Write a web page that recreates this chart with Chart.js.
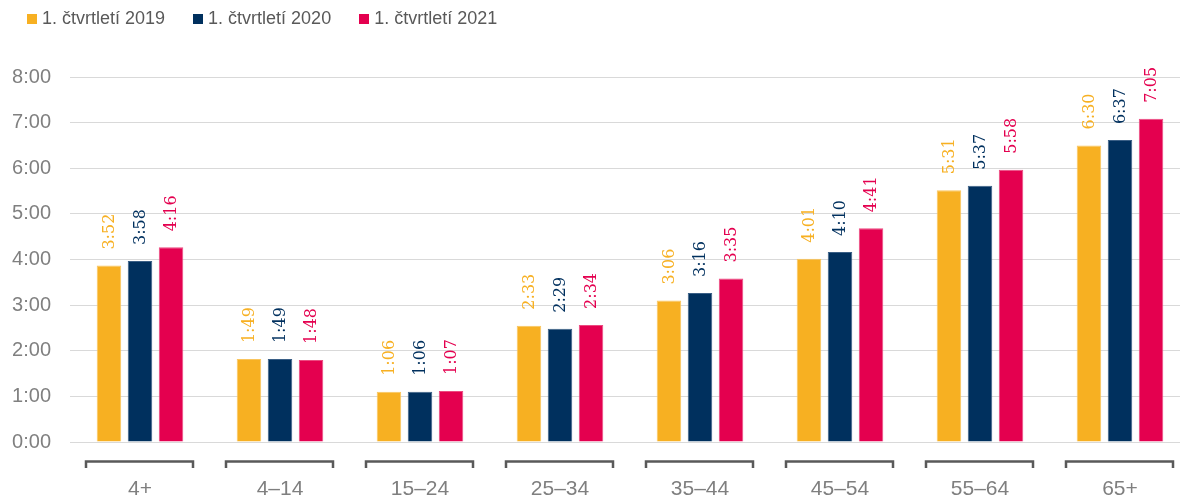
<!DOCTYPE html>
<html>
<head>
<meta charset="utf-8">
<script src="https://cdn.jsdelivr.net/npm/chart.js@4.4.1/dist/chart.umd.min.js"></script>
<style>
	html, body { margin: 0; padding: 0; overflow: hidden; background: #fff; }
	#wrap { position: relative; width: 1190px; height: 498px; }
	#legenda {
		position: absolute; left: 27px; top: 8px;
		display: flex; gap: 28px;
		font-family: "Liberation Sans", Arial, sans-serif; font-size: 18px; color: #595959;
	}
	#legenda .item { display: flex; align-items: center; }
	#legenda .box { width: 10px; height: 10px; margin-right: 5px; }
</style>
</head>
<body>
<div id="wrap">
	<canvas id="graficoSledovanost"></canvas>
	<div id="legenda"></div>
</div>
<script>
// data (minuty)
var kategorie = ["4+", "4–14", "15–24", "25–34", "35–44", "45–54", "55–64", "65+"]
var nazvyRad = ["1. čtvrtletí 2019", "1. čtvrtletí 2020", "1. čtvrtletí 2021"]
var q1_2019 = [232, 109, 66, 153, 186, 241, 331, 390]
var q1_2020 = [238, 109, 66, 149, 196, 250, 337, 397]
var q1_2021 = [256, 108, 67, 154, 215, 281, 358, 425]
var osaYTicky = [0, 60, 120, 180, 240, 300, 360, 420, 480]

var barvy = ["#F7B022", "#00305E", "#E4004F"]
var okraje = ["#F9C55E", "#3A5F86", "#EC4A80"]

function formatCas(m) {
	return Math.floor(m / 60) + ':' + String(m % 60).padStart(2, '0')
}

// legenda
var legenda = document.getElementById('legenda')
nazvyRad.forEach(function (nazev, i) {
	legenda.innerHTML += '<div class="item"><span class="box" style="background:' + barvy[i] + '"></span>' + nazev + '</div>'
})

// popisky nad sloupci, otocene o 90 stupnu
var popiskyPlugin = {
	id: 'popisky',
	afterDatasetsDraw: function (chart) {
		var ctx = chart.ctx
		ctx.save()
		ctx.font = '16px "DejaVu Serif", serif'
		ctx.textAlign = 'left'
		ctx.textBaseline = 'middle'
		chart.data.datasets.forEach(function (ds, i) {
			var meta = chart.getDatasetMeta(i)
			ctx.fillStyle = barvy[i]
			meta.data.forEach(function (bar, j) {
				ctx.save()
				ctx.translate(bar.x + 1, bar.y - 16)
				ctx.rotate(-Math.PI / 2)
				ctx.fillText(formatCas(ds.data[j]), 0, 0)
				ctx.restore()
			})
		})
		ctx.restore()
	}
}

// zavorky pod kategoriemi
var zavorkyPlugin = {
	id: 'zavorky',
	afterDraw: function (chart) {
		var ctx = chart.ctx
		var x = chart.scales.x
		var y0 = chart.chartArea.bottom + 19.5
		ctx.save()
		ctx.strokeStyle = '#595959'
		ctx.lineWidth = 2.5
		ctx.lineCap = 'butt'
		for (var i = 0; i < kategorie.length; i++) {
			var cx = x.getPixelForTick(i)
			ctx.beginPath()
			ctx.moveTo(cx - 54, y0 + 6.5)
			ctx.lineTo(cx - 54, y0)
			ctx.lineTo(cx + 53, y0)
			ctx.lineTo(cx + 53, y0 + 6.5)
			ctx.stroke()
		}
		ctx.restore()
	}
}

var datasety = [q1_2019, q1_2020, q1_2021].map(function (rada, i) {
	return {
		label: nazvyRad[i],
		data: rada,
		backgroundColor: barvy[i],
		borderColor: okraje[i],
		borderWidth: 1,
		categoryPercentage: 0.665,
		barPercentage: 0.79,
	}
})

var configChart = {
	type: 'bar',
	data: {
		labels: kategorie,
		datasets: datasety
	},
	options: {
		responsive: true,
		maintainAspectRatio: false,
		animation: false,
		layout: {
			padding: { top: 77, left: 0, right: 0, bottom: 0 }
		},
		plugins: {
			legend: { display: false },
			title: { display: false },
			tooltip: { enabled: false },
		},
		scales: {
			x: {
				afterFit: function (scale) { scale.height = 56 },
				grid: { display: false, drawTicks: false },
				border: { display: false },
				ticks: {
					color: '#7F7F7F',
					font: { family: '"Liberation Sans", Arial, sans-serif', size: 21 },
					padding: 35,
					maxRotation: 0,
				},
			},
			y: {
				min: 0,
				max: 480,
				afterBuildTicks: function (scale) {
					scale.ticks = osaYTicky.map(function (v) { return { value: v } })
				},
				afterFit: function (scale) { scale.width = 70 },
				grid: { color: '#D9D9D9', lineWidth: 1, drawTicks: false },
				border: { display: false },
				ticks: {
					color: '#808080',
					font: { family: '"Liberation Sans", Arial, sans-serif', size: 20 },
					padding: 19,
					callback: function (v) { return formatCas(v) },
				},
			},
		},
	},
	plugins: [popiskyPlugin, zavorkyPlugin]
}

var ctx = document.getElementById('graficoSledovanost').getContext('2d')
window.grafSledovanost = new Chart(ctx, configChart)
</script>
</body>
</html>
